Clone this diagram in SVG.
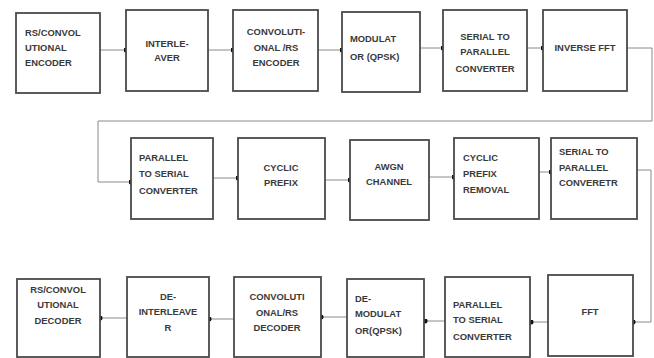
<svg xmlns="http://www.w3.org/2000/svg" width="654" height="358" viewBox="0 0 654 358">
<style>
.b{fill:#fff;stroke:#4a4a4a;stroke-width:1.8}
.t{font-family:"Liberation Sans",Arial,sans-serif;font-weight:bold;font-size:9.4px;fill:#3a3a3a}
.c{text-anchor:middle}
.e{fill:none;stroke:#8a8a8a;stroke-width:1;marker-end:url(#d)}
</style>
<defs>
<marker id="d" viewBox="0 0 6 6" refX="3" refY="3" markerWidth="5" markerHeight="5" markerUnits="userSpaceOnUse"><circle cx="3" cy="3" r="3" fill="#111"/></marker>
</defs>
<rect width="654" height="358" fill="#fff"/>
<g id="connectors">
<path class="e" d="M100,50H126"/>
<path class="e" d="M208,50H233"/>
<path class="e" d="M318,50H342"/>
<path class="e" d="M420,48H443"/>
<path class="e" d="M527,48H543"/>
<path class="e" d="M627,48H652V121H98V182H131"/>
<path class="e" d="M213,178H238"/>
<path class="e" d="M325,180H350"/>
<path class="e" d="M429,177H454"/>
<path class="e" d="M539,172H551"/>
<path class="e" d="M637,170H651V322H633"/>
<path class="e" d="M548,322H531"/>
<path class="e" d="M445,321H425"/>
<path class="e" d="M347,317H321"/>
<path class="e" d="M234,319H209"/>
<path class="e" d="M127,318H100"/>
</g>
<g id="n1"><rect class="b" x="16" y="13" width="84" height="80"/><text class="t" x="25" y="36">RS/CONVOL</text><text class="t" x="25" y="51">UTIONAL</text><text class="t" x="25" y="66">ENCODER</text></g>
<g id="n2"><rect class="b" x="126" y="10" width="82" height="81"/><text class="t c" x="167" y="47">INTERLE-</text><text class="t c" x="167" y="61">AVER</text></g>
<g id="n3"><rect class="b" x="233" y="10" width="85" height="81"/><text class="t c" x="276" y="35">CONVOLUTI-</text><text class="t c" x="276" y="51">ONAL /RS</text><text class="t c" x="276" y="66">ENCODER</text></g>
<g id="n4"><rect class="b" x="342" y="12" width="78" height="80"/><text class="t" x="350" y="42">MODULAT</text><text class="t" x="350" y="60">OR (QPSK)</text></g>
<g id="n5"><rect class="b" x="443" y="10" width="84" height="81"/><text class="t c" x="485" y="40">SERIAL TO</text><text class="t c" x="485" y="55">PARALLEL</text><text class="t c" x="485" y="72">CONVERTER</text></g>
<g id="n6"><rect class="b" x="543" y="10" width="84" height="81"/><text class="t c" x="585" y="51">INVERSE FFT</text></g>
<g id="n7"><rect class="b" x="131" y="138" width="82" height="81"/><text class="t" x="139" y="161">PARALLEL</text><text class="t" x="139" y="177">TO SERIAL</text><text class="t" x="139" y="194">CONVERTER</text></g>
<g id="n8"><rect class="b" x="238" y="138" width="87" height="81"/><text class="t c" x="281" y="171">CYCLIC</text><text class="t c" x="281" y="186">PREFIX</text></g>
<g id="n9"><rect class="b" x="350" y="140" width="79" height="80"/><text class="t c" x="389" y="170">AWGN</text><text class="t c" x="389" y="185">CHANNEL</text></g>
<g id="n10"><rect class="b" x="454" y="138" width="85" height="81"/><text class="t" x="463" y="161">CYCLIC</text><text class="t" x="463" y="177">PREFIX</text><text class="t" x="463" y="193">REMOVAL</text></g>
<g id="n11"><rect class="b" x="551" y="138" width="86" height="81"/><text class="t" x="559" y="155">SERIAL TO</text><text class="t" x="559" y="171">PARALLEL</text><text class="t" x="559" y="186">CONVERETR</text></g>
<g id="n12"><rect class="b" x="17" y="279" width="83" height="78"/><text class="t c" x="58" y="293">RS/CONVOL</text><text class="t c" x="58" y="308">UTIONAL</text><text class="t c" x="58" y="324">DECODER</text></g>
<g id="n13"><rect class="b" x="127" y="277" width="82" height="80"/><text class="t c" x="168" y="300">DE-</text><text class="t c" x="168" y="315">INTERLEAVE</text><text class="t c" x="168" y="331">R</text></g>
<g id="n14"><rect class="b" x="234" y="277" width="87" height="80"/><text class="t c" x="277" y="300">CONVOLUTI</text><text class="t c" x="277" y="316">ONAL/RS</text><text class="t c" x="277" y="331">DECODER</text></g>
<g id="n15"><rect class="b" x="347" y="279" width="77" height="78"/><text class="t" x="355" y="302">DE-</text><text class="t" x="355" y="317">MODULAT</text><text class="t" x="355" y="334">OR(QPSK)</text></g>
<g id="n16"><rect class="b" x="445" y="277" width="85" height="80"/><text class="t" x="453" y="308">PARALLEL</text><text class="t" x="453" y="323">TO SERIAL</text><text class="t" x="453" y="340">CONVERTER</text></g>
<g id="n17"><rect class="b" x="548" y="275" width="85" height="81"/><text class="t c" x="590" y="315">FFT</text></g>
</svg>
